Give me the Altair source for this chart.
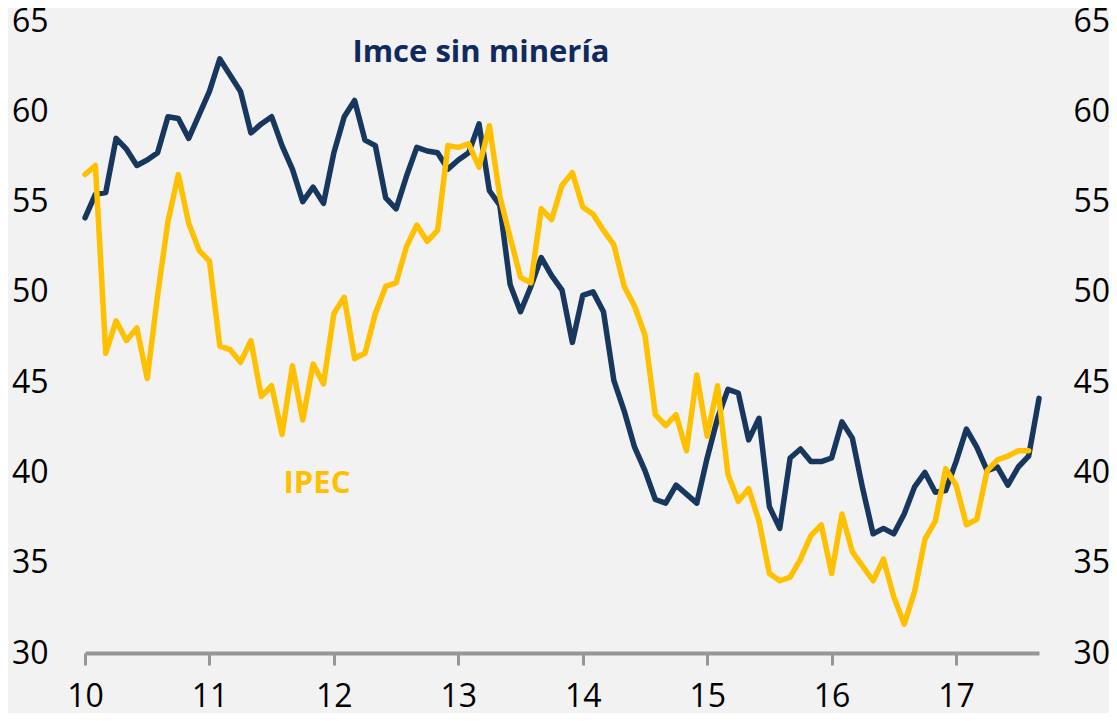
import altair as alt
import pandas as pd

# Monthly data, Jan 2010 .. Sep 2017
months = [str(p) for p in pd.period_range("2010-01", "2017-09", freq="M")]

imce = [54.1, 55.4, 55.5, 58.5, 57.9, 57.0, 57.3, 57.7, 59.7, 59.6,
        58.5, 59.8, 61.1, 62.9, 62.0, 61.1, 58.8, 59.3, 59.7, 58.1,
        56.8, 55.0, 55.8, 54.9, 57.7, 59.7, 60.6, 58.4, 58.1, 55.2,
        54.6, 56.4, 58.0, 57.8, 57.7, 56.8, 57.3, 57.7, 59.3, 55.6,
        54.8, 50.4, 48.9, 50.3, 51.9, 50.9, 50.1, 47.2, 49.8, 50.0,
        48.9, 45.1, 43.4, 41.4, 40.1, 38.5, 38.3, 39.3, 38.8, 38.3,
        40.8, 43.0, 44.6, 44.4, 41.8, 43.0, 38.1, 36.9, 40.8, 41.3,
        40.6, 40.6, 40.8, 42.8, 41.9, 39.1, 36.6, 36.9, 36.6, 37.7,
        39.2, 40.0, 38.9, 39.0, 40.6, 42.4, 41.4, 40.1, 40.3, 39.3,
        40.3, 40.9, 44.1]

ipec = [56.5, 57.0, 46.6, 48.4, 47.3, 48.0, 45.2, 49.8, 53.9, 56.5,
        53.8, 52.3, 51.7, 47.0, 46.8, 46.1, 47.3, 44.2, 44.8, 42.1,
        45.9, 42.9, 46.0, 44.9, 48.8, 49.7, 46.3, 46.6, 48.8, 50.3,
        50.5, 52.5, 53.7, 52.8, 53.4, 58.1, 58.0, 58.2, 56.9, 59.2,
        55.3, 53.0, 50.8, 50.5, 54.6, 54.0, 55.9, 56.6, 54.7, 54.3,
        53.4, 52.6, 50.3, 49.2, 47.6, 43.2, 42.6, 43.2, 41.2, 45.4,
        42.0, 44.8, 39.9, 38.4, 39.1, 37.3, 34.4, 34.0, 34.2, 35.2,
        36.5, 37.1, 34.4, 37.7, 35.6, 34.8, 34.0, 35.2, 33.1, 31.6,
        33.4, 36.3, 37.3, 40.2, 39.3, 37.1, 37.4, 40.1, 40.7, 40.9,
        41.2, 41.2]

series_names = ["Imce sin minería", "IPEC"]
series_colors = ["#17375E", "#FFC000"]
label_colors = ["#10295E", "#FFC000"]
year_ticks = [0, 12, 24, 36, 48, 60, 72, 84]
y_ticks = [30, 35, 40, 45, 50, 55, 60, 65]

rows = []
for i, m in enumerate(months):
    rows.append({"t": i, "month": m, "serie": series_names[0], "v": imce[i], "ord": 0})
for i, v in enumerate(ipec):
    rows.append({"t": i, "month": months[i], "serie": series_names[1], "v": v, "ord": 1})
df = pd.DataFrame(rows)

FONT = "Open Sans"

x_scale = alt.Scale(domain=[0, 92], nice=False, zero=False)
x_axis = alt.Axis(values=year_ticks,
                  labelExpr="format(datum.value/12 + 10, 'd')",
                  title=None, grid=False,
                  domainColor="#969696", domainWidth=4,
                  tickColor="#969696", tickWidth=3, tickSize=12,
                  labelFont=FONT, labelFontSize=32, labelColor="#000000",
                  labelPadding=16, labelFlush=False, labelOverlap=False)

y_scale = alt.Scale(domain=[30, 65], nice=False, zero=False)

lines = alt.Chart(df).mark_line(strokeWidth=5.5, strokeJoin="round", strokeCap="round").encode(
    x=alt.X("t:Q", scale=x_scale, axis=x_axis),
    y=alt.Y("v:Q", scale=y_scale,
            axis=alt.Axis(orient="left", values=y_ticks, title=None, grid=False,
                          domain=False, ticks=False, labelPadding=37,
                          labelFont=FONT, labelFontSize=32, labelColor="#000000",
                          labelFlush=False, labelOverlap=False)),
    color=alt.Color("serie:N", scale=alt.Scale(domain=series_names, range=series_colors), legend=None),
    order=alt.Order("ord:Q"),
    detail="serie:N",
)

right_axis = alt.Chart(df).mark_line(opacity=0).encode(
    x=alt.X("t:Q", scale=x_scale, axis=x_axis),
    y=alt.Y("v:Q", scale=y_scale,
            axis=alt.Axis(orient="right", values=y_ticks, title=None, grid=False,
                          domain=False, ticks=False, labelPadding=34,
                          labelFont=FONT, labelFontSize=32, labelColor="#000000",
                          labelFlush=False, labelOverlap=False)),
    detail="serie:N",
)

lab_imce = alt.Chart(pd.DataFrame({"txt": [series_names[0]]})).mark_text(
    font=FONT, fontSize=31, fontWeight="bold", color=label_colors[0],
    align="center", baseline="middle").encode(
    x=alt.value(396), y=alt.value(32), text="txt:N")

lab_ipec = alt.Chart(pd.DataFrame({"txt": [series_names[1]]})).mark_text(
    font=FONT, fontSize=31, fontWeight="bold", color=label_colors[1],
    align="center", baseline="middle").encode(
    x=alt.value(232), y=alt.value(463), text="txt:N")

chart = alt.layer(lines, right_axis, lab_imce, lab_ipec).resolve_scale(
    y="independent"
).properties(
    width=954, height=632,
    padding={"left": 77, "top": 13, "right": 70, "bottom": 60},
    autosize=alt.AutoSizeParams(type="none"),
    background="#F2F2F2",
).configure_view(stroke=None)

chart.save("out.html", embed_options={"renderer": "svg", "actions": False})
